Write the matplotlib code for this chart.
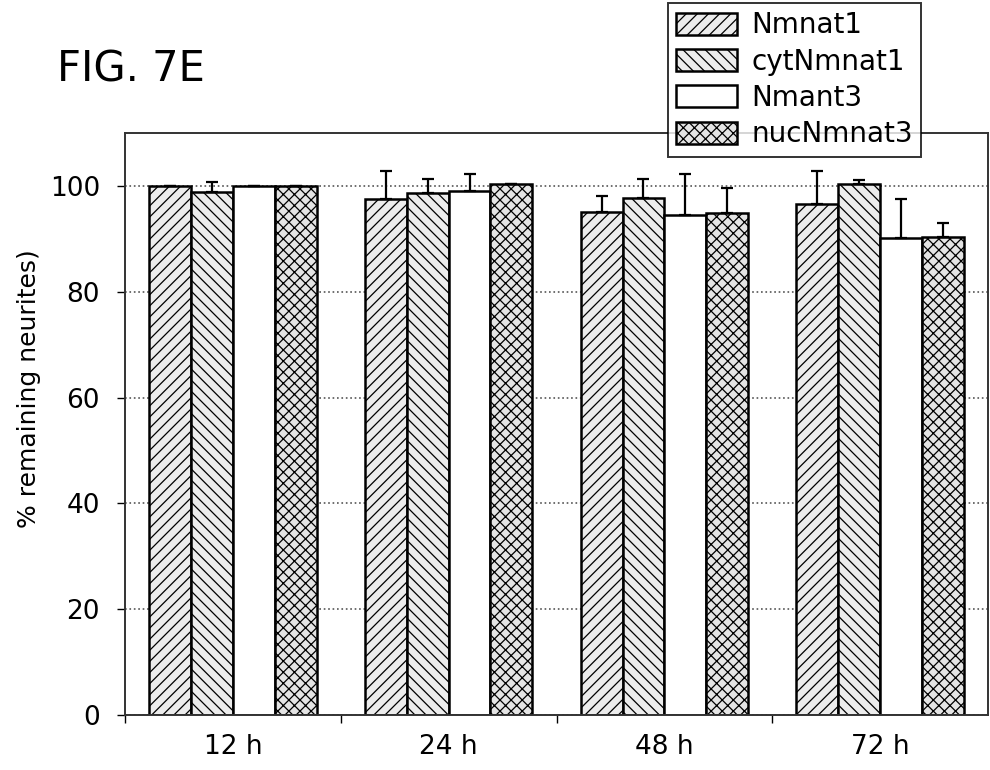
import matplotlib.pyplot as plt
import numpy as np

times = ['12 h', '24 h', '48 h', '72 h']
series = ['Nmnat1', 'cytNmnat1', 'Nmant3', 'nucNmnat3']

nmnat1 = [100, 97.5, 95.1, 96.6]
cyt_nmnat1 = [98.9, 98.7, 97.7, 100.4]
nmant3 = [100, 99.1, 94.5, 90.2]
nuc_nmnat3 = [100, 100.4, 94.9, 90.4]

nmnat1_err = [0, 5.3, 3.0, 6.2]
cyt_nmnat1_err = [1.9, 2.6, 3.6, 0.7]
nmant3_err = [0, 3.2, 7.8, 7.3]
nuc_nmnat3_err = [0, 0, 4.7, 2.6]

values = [nmnat1, cyt_nmnat1, nmant3, nuc_nmnat3]
errors = [nmnat1_err, cyt_nmnat1_err, nmant3_err, nuc_nmnat3_err]
hatches = ['///', '\\\\\\', '', 'xxx']
fills = ['#ececec', '#ececec', 'white', '#e4e4e4']

plt.rcParams['hatch.linewidth'] = 0.9
plt.rcParams['font.family'] = 'DejaVu Sans'

fig = plt.figure(figsize=(9.9, 7.7), dpi=100)
ax = fig.add_axes([125 / 990, 55 / 770, 863 / 990, 582 / 770])

x = np.arange(len(times))
w = 0.194
for i, name in enumerate(series):
    pos = x + (i - 1.5) * w
    ax.bar(pos, values[i], width=w, color=fills[i], edgecolor='black',
           hatch=hatches[i], linewidth=1.8, label=name, zorder=2)
    err = np.array(errors[i])
    ax.errorbar(pos, values[i], yerr=[np.zeros_like(err), err], fmt='none',
                ecolor='black', elinewidth=1.6, capsize=4.5, capthick=1.6, zorder=3)

ax.set_xlim(-0.5, 3.5)
ax.set_ylim(0, 110)
ax.set_yticks([0, 20, 40, 60, 80, 100])
# ticks sit between the groups, labels under the group centres
ax.set_xticks(np.arange(-0.5, 3.0, 1.0))
ax.set_xticklabels([])
ax.set_xticks(x, minor=True)
ax.set_xticklabels(times, minor=True)
ax.tick_params(axis='x', which='minor', length=0, labelsize=19, pad=14)
ax.tick_params(axis='x', which='major', length=6, width=1)
ax.tick_params(axis='y', labelsize=19, length=6, width=1, pad=12)
ax.yaxis.grid(True, linestyle=':', color='#555555', linewidth=1.2)
ax.set_axisbelow(True)
for s in ax.spines.values():
    s.set_linewidth(1.4)
    s.set_color('#333333')

ax.set_ylabel('% remaining neurites)', fontsize=18)
ax.yaxis.set_label_coords(-0.097, 0.56)

fig.text(57 / 990, 1 - 70 / 770, 'FIG. 7E', fontsize=30, va='center', ha='left')

leg = fig.legend(loc='upper right', bbox_to_anchor=(921 / 990, 1 - 3 / 770),
                 fontsize=20, frameon=True, fancybox=False, borderpad=0.3,
                 labelspacing=0.3, handlelength=2.2, handleheight=0.85,
                 handletextpad=0.5, borderaxespad=0)
leg.get_frame().set_edgecolor('black')
leg.get_frame().set_linewidth(1.4)

fig.savefig('out.png', dpi=100)
